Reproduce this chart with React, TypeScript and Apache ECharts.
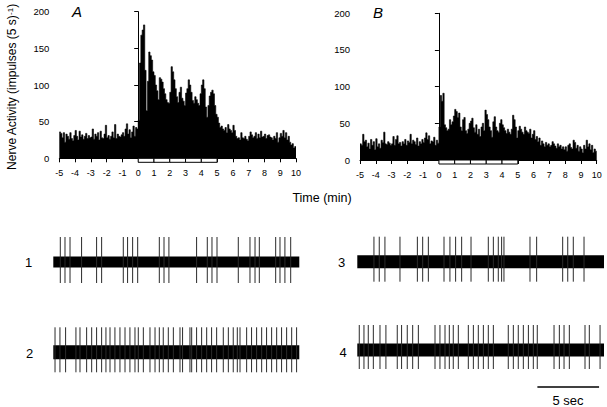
import React, { useEffect, useRef } from "react";
import * as echarts from "echarts";

// ---------- DATA ----------
// Histogram bins: 5 s each, from -5 to +10 min (12 bins per minute)
const binsPerMinute = 12;
const timeMin = -5;
const timeMax = 10;

const histA = [
  36, 34, 28, 35, 22, 33, 30, 26, 35, 27, 24, 31,
  38, 30, 25, 37, 29, 32, 26, 30, 34, 27, 31, 28,
  29, 40, 26, 33, 30, 35, 25, 37, 28, 27, 33, 45,
  28, 31, 26, 30, 36, 28, 46, 27, 33, 30, 29, 32,
  35, 30, 40, 47, 33, 39, 28, 36, 44, 30, 42, 40,
  52, 130, 168, 175, 182, 120, 65, 105, 145, 140, 134, 118,
  113, 100, 92, 80, 110, 108, 104, 95, 88, 80, 76, 75,
  90, 125, 118, 107, 95, 84, 76, 90, 97, 82, 78, 72,
  89, 95, 107, 100, 90, 79, 75, 84, 80, 75, 72, 88,
  100, 107, 95, 70, 56, 72, 85, 90, 93, 88, 72, 60,
  56, 48, 42, 44, 40, 38, 42, 35, 46, 40, 38, 35,
  45, 38, 30, 27, 28, 25, 35, 28, 27, 30, 26, 24,
  30, 36, 32, 28, 30, 35, 27, 33, 28, 37, 29, 30,
  33, 27, 31, 32, 29, 28, 25, 30, 27, 35, 22, 28,
  34, 30, 38, 28, 35, 25, 30, 22, 18, 20, 14, 16,
];

const histB = [
  22, 20, 35, 25, 27, 18, 23, 15, 28, 20, 25, 14,
  29, 18, 22, 16, 27, 24, 38, 22, 21, 25, 23, 20,
  22, 32, 20, 28, 33, 22, 24, 19, 25, 22, 28, 20,
  26, 24, 35, 22, 27, 25, 21, 30, 19, 25, 22, 28,
  24, 30, 37, 28, 33, 22, 26, 25, 31, 20, 27, 23,
  45, 88, 80, 91, 48, 44, 40, 42, 55, 48, 52, 60,
  69, 66, 58, 64, 45, 40, 55, 58, 40, 36, 42, 50,
  53, 57, 44, 38, 48, 35, 42, 32, 45, 50, 40, 68,
  62, 55, 45, 40, 31, 52, 59, 45, 40, 38, 50, 55,
  48, 44, 40, 36, 42, 38, 35, 42, 61, 55, 45, 30,
  40, 46, 42, 38, 35, 45, 40, 38, 36, 42, 30, 35,
  40, 28, 32, 25, 30, 20, 26, 22, 18, 24, 20, 22,
  18, 20, 25, 22, 19, 16, 22, 18, 20, 15, 18, 14,
  18, 12, 20, 22, 17, 15, 27, 24, 16, 20, 12, 18,
  15, 10, 20, 15, 27, 18, 22, 14, 20, 10, 15, 12,
];

// Stimulus period (0–5 min) bracket segments, one per minute
const stimulusSegments = [0, 1, 2, 3, 4];

// Nerve recordings: spike times (s) within a 20 s window
const traceSeconds = 20;
const trace1Spikes = [0.57, 0.95, 1.36, 2.3, 3.52, 3.93, 5.69, 6.04, 6.45, 6.86, 8.62, 9.0, 9.4, 11.65, 12.52, 12.9, 13.31, 15.04, 15.99, 16.4, 16.75, 18.08, 18.43, 18.83, 19.3];
const trace2Spikes = [0.14, 0.54, 1.0, 1.84, 2.17, 2.71, 3.12, 3.52, 3.93, 4.28, 4.61, 5.01, 5.42, 5.83, 6.23, 6.64, 6.91, 7.32, 7.86, 8.27, 8.62, 8.94, 9.35, 9.76, 10.3, 10.51, 11.11, 11.25, 11.65, 12.06, 12.47, 12.87, 13.28, 13.82, 14.23, 14.63, 14.96, 15.18, 15.72, 16.12, 16.53, 16.94, 17.34, 17.75, 18.16, 18.56, 18.97, 19.38, 19.78];
const trace3Spikes = [1.35, 1.78, 2.24, 3.46, 4.87, 5.3, 5.76, 7.03, 7.51, 7.97, 8.46, 9.22, 10.62, 11.03, 11.43, 11.7, 11.89, 14.0, 14.54, 16.65, 17.06, 17.51, 18.38];
const trace4Spikes = [0.16, 0.54, 0.89, 1.3, 1.84, 2.32, 3.24, 3.59, 4.05, 4.49, 4.95, 6.3, 6.7, 7.11, 7.46, 7.78, 8.19, 9.0, 9.41, 9.81, 10.22, 10.62, 11.03, 12.24, 12.65, 13.05, 13.46, 13.87, 14.27, 14.59, 15.95, 16.38, 16.76, 17.19, 18.46, 18.81, 19.68];
// spike amplitude up / down, noise band half-width (arbitrary units)
const traceUp = [25, 25, 25, 25];
const traceDown = [21, 20, 20, 19];
const traceNoise = [5.5, 7, 6.5, 6.5];
const traceNames = ["1", "2", "3", "4"];

const scaleBarSeconds = 5;
const scaleBarStart = 14.6;

// ---------- LAYOUT ----------
const FONT = "Liberation Sans, Arial, Helvetica, sans-serif";

const histGrids = [
  { left: 59.3, top: 11.7, width: 236.7, height: 146.6 },
  { left: 360, top: 13.3, width: 236.7, height: 146.7 },
];
const traceGrids = [
  { left: 53.3, top: 232, width: 246, height: 60 },
  { left: 53.3, top: 322.3, width: 246, height: 60 },
  { left: 357.3, top: 231.7, width: 246.7, height: 60 },
  { left: 357.3, top: 320, width: 246.7, height: 60 },
];
const scaleGrid = { left: 357.3, top: 377, width: 246.7, height: 20 };

function histData(vals: number[]) {
  const d = vals.map((v, i) => [timeMin + i / binsPerMinute, v]);
  d.push([timeMax, vals[vals.length - 1]]);
  return d;
}

export default function App() {
  const ref = useRef<HTMLDivElement>(null);
  useEffect(() => {
    if (!ref.current) return;
    const chart = echarts.init(ref.current, undefined, { renderer: "svg" });

    const grids: any[] = [];
    const xAxes: any[] = [];
    const yAxes: any[] = [];
    const series: any[] = [];

    histGrids.forEach((g, gi) => {
      grids.push({ ...g, containLabel: false });
      xAxes.push({
        gridIndex: gi,
        type: "value",
        min: timeMin,
        max: timeMax,
        interval: 1,
        axisLine: { lineStyle: { color: "#000", width: 1 } },
        axisTick: { length: 4, lineStyle: { color: "#000", width: 1 } },
        axisLabel: { color: "#000", fontSize: 9, margin: 10, fontFamily: FONT },
        splitLine: { show: false },
      });
      yAxes.push({
        gridIndex: gi,
        type: "value",
        min: 0,
        max: 200,
        interval: 50,
        axisLine: { show: true, lineStyle: { color: "#000", width: 1 } },
        axisTick: { show: true, length: 4, lineStyle: { color: "#000", width: 1 } },
        axisLabel: { color: "#000", fontSize: 9.5, margin: 10, fontFamily: FONT },
        splitLine: { show: false },
      });
      series.push({
        type: "line",
        xAxisIndex: gi,
        yAxisIndex: gi,
        data: histData(gi === 0 ? histA : histB),
        step: "end",
        symbol: "none",
        lineStyle: { color: "#000", width: 0.6 },
        areaStyle: { color: "#000", opacity: 1 },
        z: 2,
      });
      series.push({
        type: "custom",
        xAxisIndex: gi,
        yAxisIndex: gi,
        data: stimulusSegments.map((s) => [s, s + 1]),
        renderItem: (params: any, api: any) => {
          const p0 = api.coord([api.value(0), 0]);
          const p1 = api.coord([api.value(1), 0]);
          return {
            type: "rect",
            shape: { x: p0[0], y: p0[1], width: p1[0] - p0[0], height: 4 },
            style: { fill: "#fff", stroke: "#000", lineWidth: 1 },
          };
        },
        z: 5,
      });
    });

    const spikeSets = [trace1Spikes, trace2Spikes, trace3Spikes, trace4Spikes];
    traceGrids.forEach((g, ti) => {
      const gi = grids.length;
      grids.push({ ...g });
      xAxes.push({ gridIndex: gi, type: "value", min: 0, max: traceSeconds, show: false });
      yAxes.push({ gridIndex: gi, type: "value", min: -30, max: 30, show: false });
      series.push({
        type: "line",
        xAxisIndex: gi,
        yAxisIndex: gi,
        data: [[0, 0], [traceSeconds, 0]],
        symbol: "none",
        lineStyle: { color: "#000", width: traceNoise[ti] * 2, cap: "butt" },
        z: 2,
      });
      series.push({
        type: "custom",
        xAxisIndex: gi,
        yAxisIndex: gi,
        data: spikeSets[ti].map((t) => [t, traceUp[ti], -traceDown[ti]]),
        renderItem: (params: any, api: any) => {
          const t = api.value(0);
          const a = api.coord([t, api.value(1)]);
          const b = api.coord([t, api.value(2)]);
          return {
            type: "line",
            shape: { x1: a[0], y1: a[1], x2: b[0], y2: b[1] },
            style: { stroke: "#2a2a2a", lineWidth: 1 },
          };
        },
        z: 3,
      });
    });

    // scale bar
    {
      const gi = grids.length;
      grids.push({ ...scaleGrid });
      xAxes.push({ gridIndex: gi, type: "value", min: 0, max: traceSeconds, show: false });
      yAxes.push({ gridIndex: gi, type: "value", min: 0, max: 2, show: false });
      series.push({
        type: "line",
        xAxisIndex: gi,
        yAxisIndex: gi,
        data: [[scaleBarStart, 1.0], [scaleBarStart + scaleBarSeconds, 1.0]],
        symbol: "none",
        lineStyle: { color: "#000", width: 1.5 },
      });
    }

    const textStyle = (extra: any) => ({ fill: "#000", fontFamily: FONT, ...extra });

    chart.setOption({
      animation: false,
      backgroundColor: "#fff",
      textStyle: { fontFamily: FONT },
      grid: grids,
      xAxis: xAxes,
      yAxis: yAxes,
      series,
      graphic: [
        {
          type: "text",
          x: 12,
          y: 87,
          rotation: Math.PI / 2,
          style: textStyle({
            text: "{n|Nerve Activity (impulses (5 s)}{s|-1}{n|)}",
            align: "center",
            verticalAlign: "middle",
            rich: {
              n: { fontSize: 12, fontFamily: FONT, fill: "#000" },
              s: { fontSize: 8, fontFamily: FONT, fill: "#000", verticalAlign: "top" },
            },
          }),
        },
        { type: "text", x: 77, y: 11, style: textStyle({ text: "A", fontSize: 15, fontStyle: "italic", align: "center", verticalAlign: "middle" }) },
        { type: "text", x: 378, y: 12, style: textStyle({ text: "B", fontSize: 15, fontStyle: "italic", align: "center", verticalAlign: "middle" }) },
        { type: "text", x: 322, y: 198, style: textStyle({ text: "Time (min)", fontSize: 12.5, align: "center", verticalAlign: "middle" }) },
        { type: "text", x: 28.5, y: 262, style: textStyle({ text: traceNames[0], fontSize: 13, align: "center", verticalAlign: "middle" }) },
        { type: "text", x: 29.5, y: 353, style: textStyle({ text: traceNames[1], fontSize: 13, align: "center", verticalAlign: "middle" }) },
        { type: "text", x: 341.5, y: 262, style: textStyle({ text: traceNames[2], fontSize: 13, align: "center", verticalAlign: "middle" }) },
        { type: "text", x: 343, y: 352, style: textStyle({ text: traceNames[3], fontSize: 13, align: "center", verticalAlign: "middle" }) },
        { type: "text", x: 568, y: 400, style: textStyle({ text: "5 sec", fontSize: 13, align: "center", verticalAlign: "middle" }) },
      ],
    });
    return () => chart.dispose();
  }, []);
  return (
    <div
      ref={ref}
      style={{ position: "absolute", left: 0, top: 0, width: 607, height: 407, background: "#fff" }}
    />
  );
}
